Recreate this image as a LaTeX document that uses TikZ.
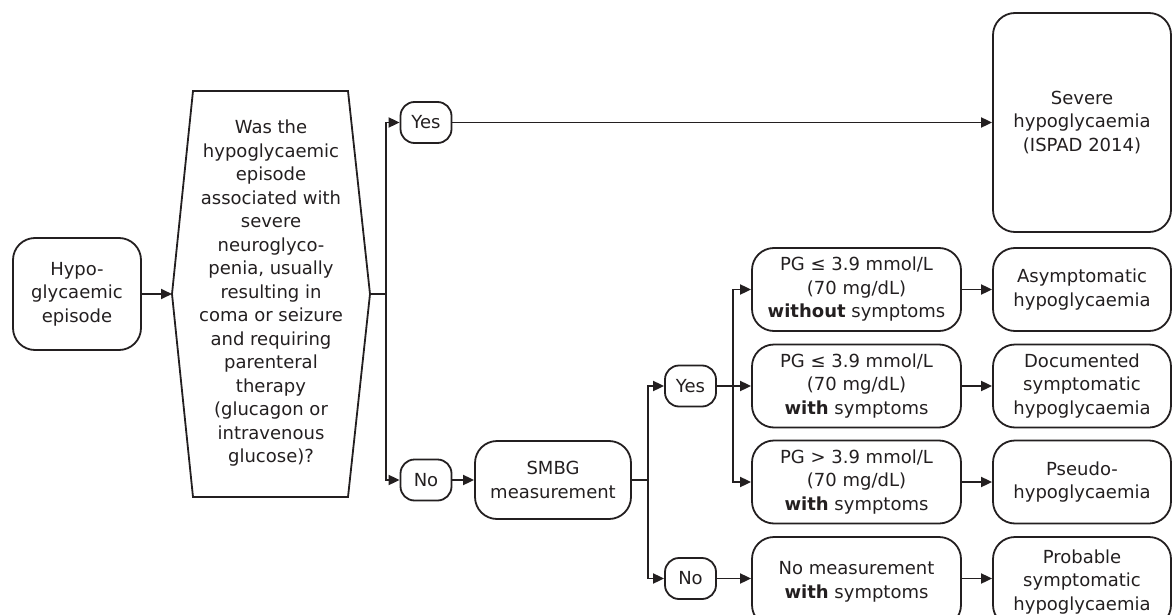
\documentclass[tikz,border=0pt]{standalone}
\usepackage{fontspec}
\setmainfont{DejaVu Sans}
\usetikzlibrary{arrows.meta}
\definecolor{ink}{RGB}{35,31,32}
\begin{document}
\begin{tikzpicture}[x=1pt,y=-1pt,
  every node/.style={font=\fontsize{18}{23.5}\selectfont, text=ink, align=center, inner sep=0pt},
  bigbox/.style={draw=ink, line width=1.8pt, rounded corners=22pt, minimum width=#1},
  pill/.style={draw=ink, line width=1.8pt, rounded corners=14pt, minimum width=51pt, minimum height=41pt},
  arr/.style={draw=ink, line width=1.8pt, -{Triangle[length=11pt,width=10pt]}},
  ln/.style={draw=ink, line width=1.8pt}]
\useasboundingbox (0,0) rectangle (1172,615);

% start
\node[bigbox=128pt, minimum height=112pt] (hypo) at (77,294) {Hypo-\\glycaemic\\episode};

% hexagon question
\coordinate (qL) at (172,294);
\coordinate (qR) at (370,294);
\coordinate (qTL) at (193,91);
\coordinate (qTR) at (348,91);
\coordinate (qBL) at (193,497);
\coordinate (qBR) at (348,497);
\draw[ln, line join=miter] (qL) -- (qTL) -- (qTR) -- (qR) -- (qBR) -- (qBL) -- cycle;
\node (q) at (271,293.5) {Was the\\hypoglycaemic\\episode\\associated with\\severe\\neuroglyco-\\penia, usually\\resulting in\\coma or seizure\\and requiring\\parenteral\\therapy\\(glucagon or\\intravenous\\glucose)?};

% first decision
\node[pill] (yes1) at (426,122.5) {Yes};
\node[pill] (no1) at (426,480) {No};
\node[bigbox=178pt, minimum height=219pt] (severe) at (1082,122.5) {Severe\\hypoglycaemia\\(ISPAD 2014)};
\node[bigbox=156pt, minimum height=78pt] (smbg) at (553,480) {SMBG\\measurement};

% second decision
\node[pill] (yes2) at (690.5,386) {Yes};
\node[pill] (no2) at (690.5,578.5) {No};

% measurement outcomes
\node[bigbox=209pt, minimum height=83pt] (pg1) at (856.5,289.5) {PG ≤ 3.9 mmol/L\\(70 mg/dL)\\\textbf{without} symptoms};
\node[bigbox=209pt, minimum height=83pt] (pg2) at (856.5,386) {PG ≤ 3.9 mmol/L\\(70 mg/dL)\\\textbf{with} symptoms};
\node[bigbox=209pt, minimum height=83pt] (pg3) at (856.5,482) {PG > 3.9 mmol/L\\(70 mg/dL)\\\textbf{with} symptoms};
\node[bigbox=209pt, minimum height=90pt] (pg4) at (856.5,582) {No measurement\\\textbf{with} symptoms};

% classifications
\node[bigbox=178pt, minimum height=83pt] (r1) at (1082,289.5) {Asymptomatic\\hypoglycaemia};
\node[bigbox=178pt, minimum height=83pt] (r2) at (1082,386) {Documented\\symptomatic\\hypoglycaemia};
\node[bigbox=178pt, minimum height=83pt] (r3) at (1082,482) {Pseudo-\\hypoglycaemia};
\node[bigbox=178pt, minimum height=90pt] (r4) at (1082,582) {Probable\\symptomatic\\hypoglycaemia};

% connectors
\draw[arr] (hypo.east) -- (qL);
\draw[arr] (qR) -- ++(16,0) |- (yes1.west);
\draw[arr] (qR) -- ++(16,0) |- (no1.west);
\draw[arr] (yes1.east) -- (severe.west);
\draw[arr] (no1.east) -- (smbg.west);
\draw[arr] (smbg.east) -- ++(16,0) |- (yes2.west);
\draw[arr] (smbg.east) -- ++(16,0) |- (no2.west);
\draw[arr] (yes2.east) -- ++(16,0) |- (pg1.west);
\draw[arr] (yes2.east) -- (pg2.west);
\draw[arr] (yes2.east) -- ++(16,0) |- (pg3.west);
\draw[arr] (no2.east) -- (no2.east -| pg4.west);
\draw[arr] (pg1.east) -- (r1.west);
\draw[arr] (pg2.east) -- (r2.west);
\draw[arr] (pg3.east) -- (r3.west);
\draw[arr] (pg4.east |- no2.east) -- (r4.west |- no2.east);
\end{tikzpicture}
\end{document}
